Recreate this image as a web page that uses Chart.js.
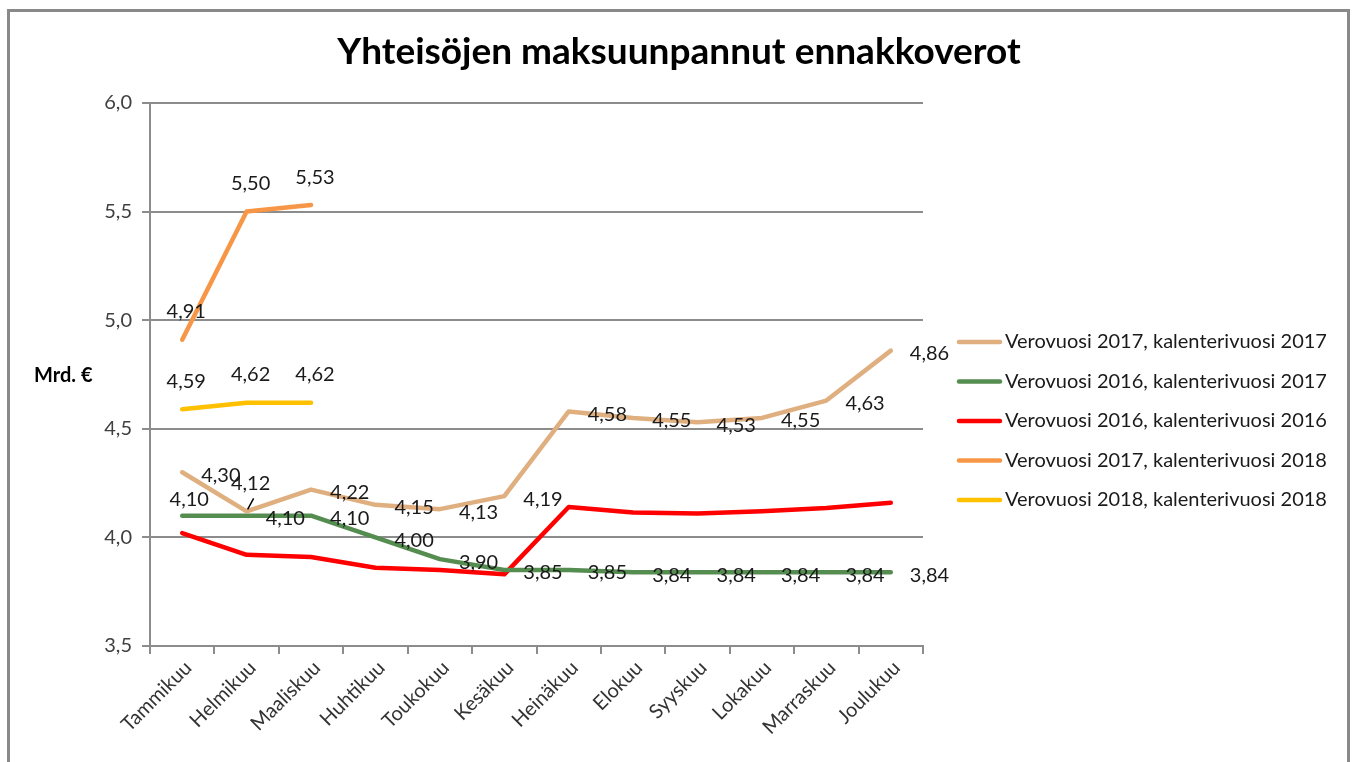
<!DOCTYPE html>
<html><head><meta charset="utf-8">
<script src="https://cdn.jsdelivr.net/npm/chart.js@4/dist/chart.umd.min.js"></script>
<style>
html,body{margin:0;padding:0;background:#fff;}
#wrap{position:relative;width:1352px;height:762px;}
canvas{display:block}
</style></head><body>
<div id="wrap"><canvas id="c" width="1352" height="762"></canvas></div>
<script>
// ---- data ----
const chartTitle = 'Yhteisöjen maksuunpannut ennakkoverot';
const yAxisLabel = 'Mrd. €';
const months = ['Tammikuu','Helmikuu','Maaliskuu','Huhtikuu','Toukokuu','Kesäkuu','Heinäkuu','Elokuu','Syyskuu','Lokakuu','Marraskuu','Joulukuu'];
const seriesNames = [
  'Verovuosi 2017, kalenterivuosi 2017',
  'Verovuosi 2016, kalenterivuosi 2017',
  'Verovuosi 2016, kalenterivuosi 2016',
  'Verovuosi 2017, kalenterivuosi 2018',
  'Verovuosi 2018, kalenterivuosi 2018'
];
const vv2017_kv2017 = [4.30, 4.12, 4.22, 4.15, 4.13, 4.19, 4.58, 4.55, 4.53, 4.55, 4.63, 4.86];
const vv2016_kv2017 = [4.10, 4.10, 4.10, 4.00, 3.90, 3.85, 3.85, 3.84, 3.84, 3.84, 3.84, 3.84];
const vv2016_kv2016 = [4.02, 3.92, 3.91, 3.86, 3.85, 3.83, 4.14, 4.115, 4.11, 4.12, 4.135, 4.16];
const vv2017_kv2018 = [4.91, 5.50, 5.53, null, null, null, null, null, null, null, null, null];
const vv2018_kv2018 = [4.59, 4.62, 4.62, null, null, null, null, null, null, null, null, null];
const yMin = 3.5, yMax = 6.0, yStep = 0.5;

// ---- styles ----
const FONT = 'Lato, "Open Sans", sans-serif';
const colors = ['#DFAF80', '#558D51', '#FF0000', '#F79646', '#FFC000'];
const fmt = v => v.toFixed(2).replace('.', ',');
const labelStyle = [
  {pos:'right', except:{1:{pos:'above', leader:true}}},
  {pos:'right', except:{0:{pos:'aboveSmall'}}},
  null,
  {pos:'above'},
  {pos:'above'}
];

const seriesData = [vv2017_kv2017, vv2016_kv2017, vv2016_kv2016, vv2017_kv2018, vv2018_kv2018];
const datasets = seriesData.map((d, i) => ({
  label: seriesNames[i],
  data: d,
  borderColor: colors[i],
  backgroundColor: colors[i],
  borderWidth: 4.5,
  pointRadius: 0,
  tension: 0,
  fill: false,
  borderJoinStyle: 'round',
  borderCapStyle: 'round'
}));

const decor = {
  id: 'decor',
  beforeDraw(chart) {
    const c = chart.ctx;
    c.save();
    c.fillStyle = '#fff';
    c.fillRect(0, 0, chart.width, chart.height);
    c.strokeStyle = '#898989';
    c.lineWidth = 3;
    c.strokeRect(8.5, 10.5, 1340, 800);
    c.restore();
  },
  afterDatasetsDraw(chart) {
    const c = chart.ctx;
    c.save();
    c.fillStyle = '#000';
    c.font = 'bold 37px ' + FONT;
    c.textAlign = 'center';
    c.textBaseline = 'middle';
    c.fillText(chartTitle, 679, 52);
    c.font = 'bold 20px ' + FONT;
    c.textAlign = 'left';
    c.fillText(yAxisLabel, 34, 376);
    c.font = '20px ' + FONT;
    c.fillStyle = '#1a1a1a';
    chart.data.datasets.forEach((ds, i) => {
      const st = labelStyle[i];
      if (!st) return;
      const meta = chart.getDatasetMeta(i);
      meta.data.forEach((pt, j) => {
        const v = ds.data[j];
        if (v === null || v === undefined) return;
        const s = (st.except && st.except[j]) || st;
        let x = pt.x, y = pt.y;
        if (s.pos === 'right') {
          c.textAlign = 'left'; x += 19; y += 3;
        } else if (s.pos === 'above') {
          c.textAlign = 'center'; x += 4; y -= 28;
        } else if (s.pos === 'aboveSmall') {
          c.textAlign = 'center'; x += 7; y -= 16;
        }
        c.fillText(fmt(v), x, y);
        if (s.leader) {
          c.strokeStyle = '#000'; c.lineWidth = 1.5;
          c.beginPath(); c.moveTo(pt.x + 7, pt.y - 13); c.lineTo(pt.x + 1, pt.y - 2); c.stroke();
        }
      });
    });
    c.font = '20px ' + FONT;
    c.textAlign = 'left';
    c.textBaseline = 'middle';
    chart.data.datasets.forEach((ds, i) => {
      const y = 342 + i * 39.5;
      c.strokeStyle = ds.borderColor;
      c.lineWidth = 4.5;
      c.lineCap = 'round';
      c.beginPath(); c.moveTo(959, y); c.lineTo(1000, y); c.stroke();
      c.fillStyle = '#1a1a1a';
      c.fillText(ds.label, 1005, y);
    });
    c.restore();
  }
};

new Chart(document.getElementById('c'), {
  type: 'line',
  data: { labels: months, datasets },
  options: {
    responsive: false,
    animation: false,
    devicePixelRatio: 1,
    layout: { padding: { left: 0, right: 429, top: 103, bottom: 0 } },
    plugins: { legend: { display: false }, title: { display: false }, tooltip: { enabled: false } },
    scales: {
      x: {
        offset: true,
        grid: { offset: true, drawOnChartArea: false, color: '#8c8c8c', lineWidth: 2, tickLength: 8 },
        border: { color: '#8c8c8c', width: 2 },
        ticks: { minRotation: 45, maxRotation: 45, color: '#333', font: { family: FONT, size: 20 }, padding: 2, autoSkip: false, labelOffset: 6 },
        afterFit(s) { s.height = 116; }
      },
      y: {
        min: yMin, max: yMax,
        grid: { color: '#8c8c8c', lineWidth: 2, tickLength: 8 },
        border: { color: '#8c8c8c', width: 2 },
        ticks: { stepSize: yStep, color: '#404040', font: { family: FONT, size: 20 }, padding: 10,
                 callback: v => Number(v).toFixed(1).replace('.', ',') },
        afterFit(s) { s.width = 150; }
      }
    }
  },
  plugins: [decor]
});
</script>
</body></html>
